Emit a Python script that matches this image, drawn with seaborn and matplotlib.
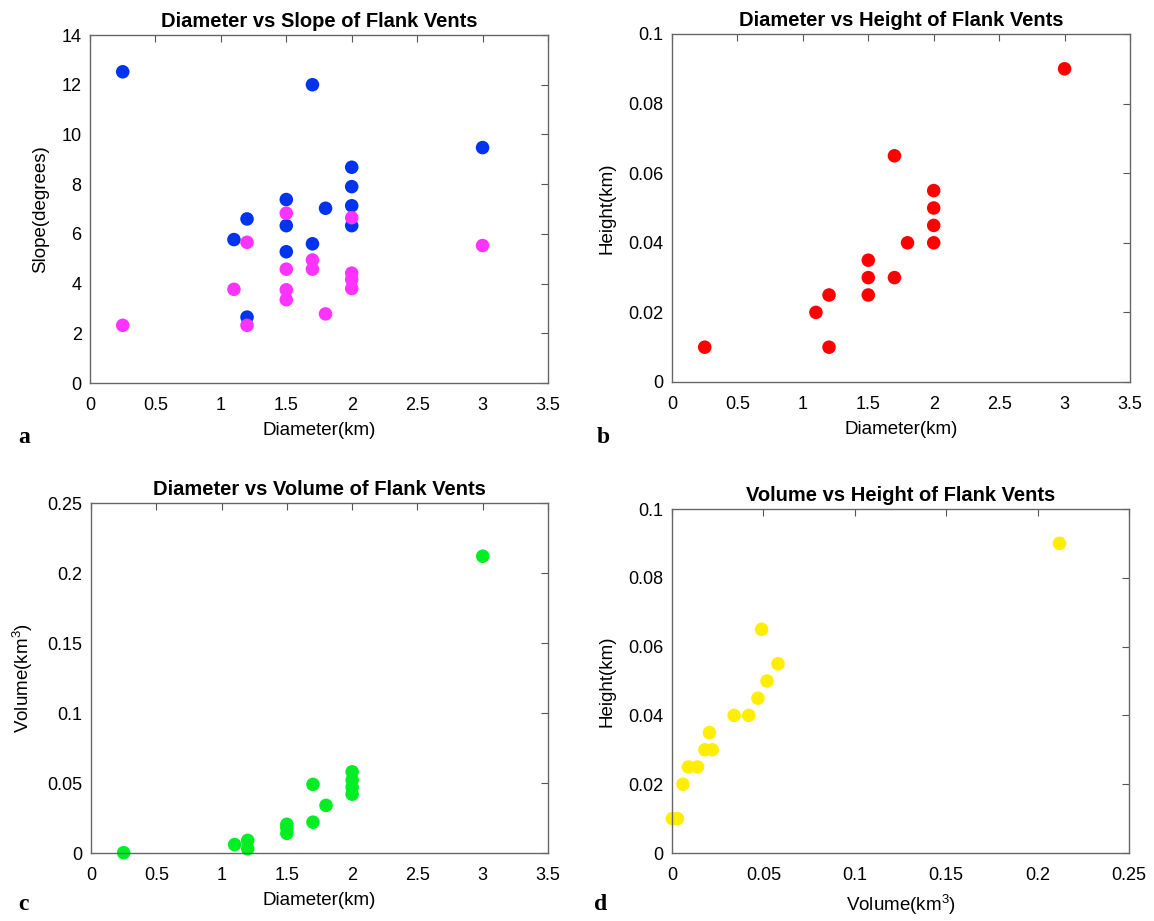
import numpy as np
import pandas as pd
import matplotlib
matplotlib.use("Agg")
import matplotlib.pyplot as plt
import seaborn as sns

# Flank vent measurements
diameter = [0.25, 1.1, 1.2, 1.2, 1.5, 1.5, 1.5, 1.7, 1.7, 1.8, 2.0, 2.0, 2.0, 2.0, 3.0]
height = [0.010, 0.020, 0.025, 0.010, 0.025, 0.030, 0.035, 0.065, 0.030, 0.040,
          0.040, 0.045, 0.050, 0.055, 0.090]
volume = [0.0002, 0.006, 0.009, 0.003, 0.014, 0.018, 0.0205, 0.049, 0.022, 0.034,
          0.042, 0.047, 0.052, 0.058, 0.212]

# Slope values (two series) against diameter
slope_a_diam = [0.25, 1.1, 1.2, 1.2, 1.5, 1.5, 1.5, 1.7, 1.7, 1.8, 2.0, 2.0, 2.0, 2.0, 3.0]
slope_a = [12.52, 5.77, 6.6, 2.65, 7.38, 6.33, 5.28, 12.0, 5.6, 7.03, 8.68, 7.9, 7.13, 6.33, 9.47]
slope_b_diam = [0.25, 1.1, 1.2, 1.2, 1.5, 1.5, 1.5, 1.5, 1.7, 1.7, 1.8, 2.0, 2.0, 2.0, 2.0, 3.0]
slope_b = [2.32, 3.77, 5.66, 2.32, 6.83, 4.58, 3.75, 3.35, 4.95, 4.58, 2.78, 6.65, 4.42, 4.16, 3.8, 5.53]

sns.set_style("white")
plt.rcParams["font.family"] = ["Liberation Sans", "DejaVu Sans"]
plt.rcParams["mathtext.fontset"] = "custom"
plt.rcParams["mathtext.rm"] = "Liberation Sans"
plt.rcParams["text.color"] = "black"
plt.rcParams["axes.labelcolor"] = "black"
plt.rcParams["xtick.labelcolor"] = "black"
plt.rcParams["ytick.labelcolor"] = "black"

W, H = 1154, 921
fig = plt.figure(figsize=(W / 100, H / 100), dpi=100)


def make_axes(left, top, right, bottom):
    return fig.add_axes([left / W, 1 - bottom / H, (right - left) / W, (bottom - top) / H])


BLUE = "#0033ee"
MAGENTA = "#ff33ff"
RED = "#ff0000"
GREEN = "#00ee22"
YELLOW = "#ffee00"
MS = 95


def dots(x, y, color, ax):
    sns.scatterplot(x=x, y=y, color=color, s=MS, edgecolor="none", ax=ax, clip_on=False)


def style(ax, xlim, xticks, ylim, yticks, title, xlabel, ylabel):
    ax.set_xlim(*xlim)
    ax.set_ylim(*ylim)
    ax.set_xticks(xticks)
    ax.set_yticks(yticks)
    ax.set_xticklabels([f"{v:g}" for v in xticks])
    ax.set_yticklabels([f"{v:g}" for v in yticks])
    ax.tick_params(direction="in", length=5, width=0.8, color="#555555",
                   labelcolor="black", top=True, right=True, labelsize=13)
    ax.tick_params(axis="x", pad=10)
    ax.tick_params(axis="y", pad=6)
    for sp in ax.spines.values():
        sp.set_visible(True)
        sp.set_color("#666666")
        sp.set_linewidth(1.0)
    ax.set_title(title, fontsize=14.5, fontweight="bold", pad=6, color="black")
    ax.set_xlabel(xlabel, fontsize=13.5, labelpad=6)
    ax.set_ylabel(ylabel, fontsize=13.5, labelpad=9)


# a: diameter vs slope
ax = make_axes(90, 35, 548, 383)
dots(slope_a_diam, slope_a, BLUE, ax)
dots(slope_b_diam, slope_b, MAGENTA, ax)
style(ax, (0, 3.5), np.arange(0, 3.51, 0.5), (0, 14), np.arange(0, 14.1, 2),
      "Diameter vs Slope of Flank Vents", "Diameter(km)", "Slope(degrees)")

# b: diameter vs height
ax = make_axes(672, 34, 1130, 382)
dots(diameter, height, RED, ax)
style(ax, (0, 3.5), np.arange(0, 3.51, 0.5), (0, 0.1), np.round(np.arange(0, 0.101, 0.02), 2),
      "Diameter vs Height of Flank Vents", "Diameter(km)", "Height(km)")

# c: diameter vs volume
ax = make_axes(91, 503, 548, 853)
dots(diameter, volume, GREEN, ax)
style(ax, (0, 3.5), np.arange(0, 3.51, 0.5), (0, 0.25), np.round(np.arange(0, 0.251, 0.05), 2),
      "Diameter vs Volume of Flank Vents", "Diameter(km)", r"Volume(km$^3$)")

# d: volume vs height
ax = make_axes(672, 509, 1129, 853)
dots(volume, height, YELLOW, ax)
style(ax, (0, 0.25), np.round(np.arange(0, 0.251, 0.05), 2), (0, 0.1),
      np.round(np.arange(0, 0.101, 0.02), 2),
      "Volume vs Height of Flank Vents", r"Volume(km$^3$)", "Height(km)")

# panel letters
for letter, (px, py) in zip("abcd", [(18, 443), (597, 443), (18, 910), (594, 910)]):
    fig.text(px / W, 1 - py / H, letter, fontsize=17, fontweight="bold",
             family="Liberation Serif", ha="left", va="baseline")

fig.savefig("out.png", dpi=100, facecolor="white")
